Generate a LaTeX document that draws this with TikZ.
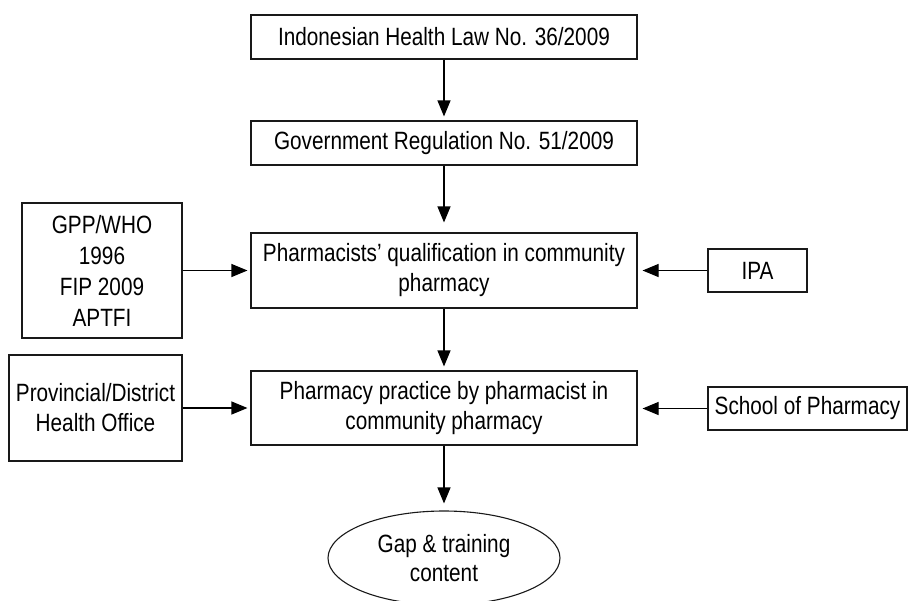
\documentclass[tikz,border=0pt]{standalone}
\usepackage{fontspec}
\setmainfont{Liberation Sans}[FakeStretch=0.83]
\usetikzlibrary{arrows.meta,shapes.geometric}
\begin{document}
\begin{tikzpicture}[x=1pt,y=-1pt,
  box/.style={draw=black!90,line width=1.1pt,rectangle,inner sep=0pt,align=center,
    font=\fontsize{25}{30}\selectfont},
  arr/.style={draw=black,line width=1.1pt,-{Triangle[length=16pt,width=13pt]}}]
\useasboundingbox (0,0) rectangle (908,600);
\node[box,minimum width=386,minimum height=44] (law) at (444,37) {Indonesian Health Law No. 36/2009};
\node[box,minimum width=386,minimum height=44] (reg) at (444,143) {Government Regulation No. 51/2009};
\node[box,minimum width=386,minimum height=75] (qual) at (444,270.5) {Pharmacists’ qualification in community\\pharmacy};
\node[box,minimum width=386,minimum height=74] (prac) at (444,408) {Pharmacy practice by pharmacist in\\community pharmacy};
\node[box,minimum width=160,minimum height=135,font=\fontsize{25}{31}\selectfont] (gpp) at (102,270.5) {GPP/WHO\\1996\\FIP 2009\\APTFI};
\node[box,minimum width=173,minimum height=106] (prov) at (95.5,408) {Provincial/District\\Health Office};
\node[box,minimum width=99,minimum height=43] (ipa) at (757.5,270.5) {IPA};
\node[box,minimum width=199,minimum height=43] (school) at (807.5,408.5) {School of Pharmacy};
\node[box,ellipse,minimum width=232,minimum height=94,font=\fontsize{25}{29}\selectfont] (gap) at (444,558) {Gap \& training\\content};
\draw[arr,shorten >=4pt] (law) -- (reg);
\draw[arr,shorten >=10pt] (reg) -- (qual);
\draw[arr,shorten >=4pt] (qual) -- (prac);
\draw[arr,shorten >=7pt] (prac) -- (gap);
\draw[arr,shorten >=3pt] (gpp.east) -- (gpp.east -| qual.west);
\draw[arr,shorten >=3pt] (prov.east) -- (prov.east -| prac.west);
\draw[arr,shorten >=5pt] (ipa.west) -- (ipa.west -| qual.east);
\draw[arr,shorten >=5pt] (school.west) -- (school.west -| prac.east);
\end{tikzpicture}
\end{document}
